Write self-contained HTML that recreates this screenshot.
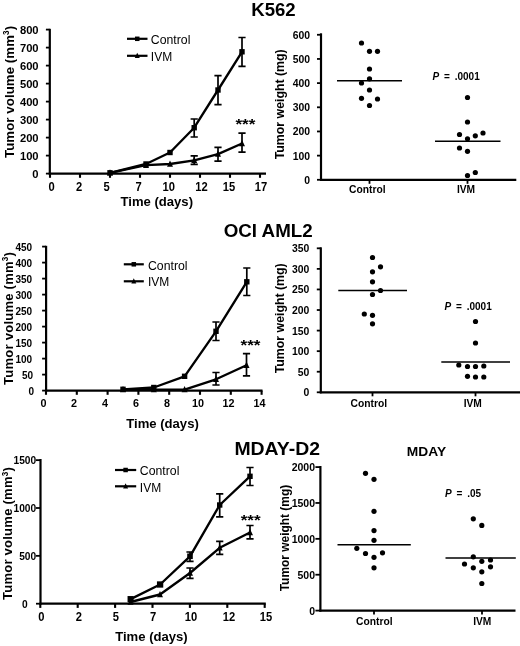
<!DOCTYPE html>
<html lang="en"><head><meta charset="utf-8"><title>Tumor volume and weight: K562, OCI AML2, MDAY-D2</title>
<style>html,body{margin:0;padding:0;background:#fff}svg{display:block}</style></head>
<body>
<svg width="520" height="646" viewBox="0 0 520 646" font-family='"Liberation Sans", Arial, Helvetica, sans-serif' fill="#000">
<rect width="520" height="646" fill="#fff"/>
<text x="251.2" y="15.5" font-size="17.5" font-weight="bold" textLength="44.5" lengthAdjust="spacingAndGlyphs">K562</text>
<text x="223.7" y="236.8" font-size="17.5" font-weight="bold" textLength="89" lengthAdjust="spacingAndGlyphs">OCI AML2</text>
<text x="234.4" y="455" font-size="17.5" font-weight="bold" textLength="85.6" lengthAdjust="spacingAndGlyphs">MDAY-D2</text>
<text x="406.8" y="455.5" font-size="12.4" font-weight="bold" textLength="39.3" lengthAdjust="spacingAndGlyphs">MDAY</text>
<line x1="49.8" y1="28.8" x2="49.8" y2="174.6" stroke="#000" stroke-width="2.2" stroke-linecap="butt"/>
<line x1="48.8" y1="173.6" x2="266" y2="173.6" stroke="#000" stroke-width="2.2" stroke-linecap="butt"/>
<line x1="45.9" y1="173.6" x2="49.8" y2="173.6" stroke="#000" stroke-width="1.8" stroke-linecap="butt"/>
<text x="38.6" y="177.9" font-size="11.2" font-weight="bold" text-anchor="end">0</text>
<line x1="45.9" y1="155.6" x2="49.8" y2="155.6" stroke="#000" stroke-width="1.8" stroke-linecap="butt"/>
<text x="38.6" y="159.9" font-size="11.2" font-weight="bold" text-anchor="end">100</text>
<line x1="45.9" y1="137.6" x2="49.8" y2="137.6" stroke="#000" stroke-width="1.8" stroke-linecap="butt"/>
<text x="38.6" y="141.9" font-size="11.2" font-weight="bold" text-anchor="end">200</text>
<line x1="45.9" y1="119.6" x2="49.8" y2="119.6" stroke="#000" stroke-width="1.8" stroke-linecap="butt"/>
<text x="38.6" y="123.9" font-size="11.2" font-weight="bold" text-anchor="end">300</text>
<line x1="45.9" y1="101.6" x2="49.8" y2="101.6" stroke="#000" stroke-width="1.8" stroke-linecap="butt"/>
<text x="38.6" y="105.9" font-size="11.2" font-weight="bold" text-anchor="end">400</text>
<line x1="45.9" y1="83.6" x2="49.8" y2="83.6" stroke="#000" stroke-width="1.8" stroke-linecap="butt"/>
<text x="38.6" y="87.9" font-size="11.2" font-weight="bold" text-anchor="end">500</text>
<line x1="45.9" y1="65.6" x2="49.8" y2="65.6" stroke="#000" stroke-width="1.8" stroke-linecap="butt"/>
<text x="38.6" y="69.9" font-size="11.2" font-weight="bold" text-anchor="end">600</text>
<line x1="45.9" y1="47.6" x2="49.8" y2="47.6" stroke="#000" stroke-width="1.8" stroke-linecap="butt"/>
<text x="38.6" y="51.9" font-size="11.2" font-weight="bold" text-anchor="end">700</text>
<line x1="45.9" y1="29.6" x2="49.8" y2="29.6" stroke="#000" stroke-width="1.8" stroke-linecap="butt"/>
<text x="38.6" y="33.9" font-size="11.2" font-weight="bold" text-anchor="end">800</text>
<line x1="50" y1="173.6" x2="50" y2="177.79999999999998" stroke="#000" stroke-width="2.1" stroke-linecap="butt"/>
<text x="0" y="0" font-size="11.2" font-weight="bold" text-anchor="middle" transform="translate(51.5,190.7) scale(1,1.1)">0</text>
<line x1="80" y1="173.6" x2="80" y2="177.79999999999998" stroke="#000" stroke-width="2.1" stroke-linecap="butt"/>
<text x="0" y="0" font-size="11.2" font-weight="bold" text-anchor="middle" transform="translate(79,190.7) scale(1,1.1)">2</text>
<line x1="110" y1="173.6" x2="110" y2="177.79999999999998" stroke="#000" stroke-width="2.1" stroke-linecap="butt"/>
<text x="0" y="0" font-size="11.2" font-weight="bold" text-anchor="middle" transform="translate(106.5,190.7) scale(1,1.1)">5</text>
<line x1="140" y1="173.6" x2="140" y2="177.79999999999998" stroke="#000" stroke-width="2.1" stroke-linecap="butt"/>
<text x="0" y="0" font-size="11.2" font-weight="bold" text-anchor="middle" transform="translate(138.5,190.7) scale(1,1.1)">7</text>
<line x1="170" y1="173.6" x2="170" y2="177.79999999999998" stroke="#000" stroke-width="2.1" stroke-linecap="butt"/>
<text x="0" y="0" font-size="11.2" font-weight="bold" text-anchor="middle" transform="translate(168.8,190.7) scale(1,1.1)">10</text>
<line x1="200" y1="173.6" x2="200" y2="177.79999999999998" stroke="#000" stroke-width="2.1" stroke-linecap="butt"/>
<text x="0" y="0" font-size="11.2" font-weight="bold" text-anchor="middle" transform="translate(201.5,190.7) scale(1,1.1)">12</text>
<line x1="230" y1="173.6" x2="230" y2="177.79999999999998" stroke="#000" stroke-width="2.1" stroke-linecap="butt"/>
<text x="0" y="0" font-size="11.2" font-weight="bold" text-anchor="middle" transform="translate(229,190.7) scale(1,1.1)">15</text>
<line x1="260" y1="173.6" x2="260" y2="177.79999999999998" stroke="#000" stroke-width="2.1" stroke-linecap="butt"/>
<text x="0" y="0" font-size="11.2" font-weight="bold" text-anchor="middle" transform="translate(261,190.7) scale(1,1.1)">17</text>
<path d="M190.6,119H197.79999999999998M190.6,137H197.79999999999998M194.2,119V137" stroke="#000" stroke-width="1.7" fill="none"/>
<path d="M214.4,75.7H221.6M214.4,104.6H221.6M218,75.7V104.6" stroke="#000" stroke-width="1.7" fill="none"/>
<path d="M238.4,37.5H245.6M238.4,66.3H245.6M242,37.5V66.3" stroke="#000" stroke-width="1.7" fill="none"/>
<path d="M190.6,155.8H197.79999999999998M190.6,164.3H197.79999999999998M194.2,155.8V164.3" stroke="#000" stroke-width="1.7" fill="none"/>
<path d="M214.4,147.3H221.6M214.4,161.2H221.6M218,147.3V161.2" stroke="#000" stroke-width="1.7" fill="none"/>
<path d="M238.4,133.2H245.6M238.4,152.2H245.6M242,133.2V152.2" stroke="#000" stroke-width="1.7" fill="none"/>
<polyline points="110,172.8 146,165.2 170,164 194.2,160.3 218,154.1 242,143.5" fill="none" stroke="#000" stroke-width="2.35" stroke-linejoin="round"/>
<polyline points="110,172.8 146,164 170,152.5 194.2,127.7 218,90 242,51.8" fill="none" stroke="#000" stroke-width="2.35" stroke-linejoin="round"/>
<rect x="107.3" y="170.10000000000002" width="5.4" height="5.4" fill="#000"/>
<rect x="143.3" y="161.3" width="5.4" height="5.4" fill="#000"/>
<rect x="167.3" y="149.8" width="5.4" height="5.4" fill="#000"/>
<rect x="191.5" y="125.0" width="5.4" height="5.4" fill="#000"/>
<rect x="215.3" y="87.3" width="5.4" height="5.4" fill="#000"/>
<rect x="239.3" y="49.099999999999994" width="5.4" height="5.4" fill="#000"/>
<polygon points="110,169.20000000000002 113.0,175.5 107.0,175.5" fill="#000"/>
<polygon points="146,161.6 149.0,167.89999999999998 143.0,167.89999999999998" fill="#000"/>
<polygon points="170,160.4 173.0,166.7 167.0,166.7" fill="#000"/>
<polygon points="194.2,156.70000000000002 197.2,163.0 191.2,163.0" fill="#000"/>
<polygon points="218,150.5 221.0,156.79999999999998 215.0,156.79999999999998" fill="#000"/>
<polygon points="242,139.9 245.0,146.2 239.0,146.2" fill="#000"/>
<line x1="127" y1="38.8" x2="147.5" y2="38.8" stroke="#000" stroke-width="2.2" stroke-linecap="butt"/>
<rect x="135.0" y="36.55" width="4.5" height="4.5" fill="#000"/>
<line x1="127" y1="55.8" x2="147.5" y2="55.8" stroke="#000" stroke-width="2.2" stroke-linecap="butt"/>
<polygon points="137.25,52.8 139.75,58.05 134.75,58.05" fill="#000"/>
<text x="150.8" y="44.3" font-size="12" textLength="39.6" lengthAdjust="spacingAndGlyphs">Control</text>
<text x="150.8" y="60.5" font-size="12">IVM</text>
<text x="235.4" y="128.5" font-size="15.5" font-weight="bold" textLength="20" lengthAdjust="spacingAndGlyphs">***</text>
<text transform="translate(13.8,158) rotate(-90)" font-size="13.2" font-weight="bold" letter-spacing="0.1">Tumor volume (mm<tspan font-size="8.2" dy="-4.8">3</tspan><tspan dy="4.8">)</tspan></text>
<text x="120.5" y="205.8" font-size="13" font-weight="bold" textLength="72.5" lengthAdjust="spacingAndGlyphs">Time (days)</text>
<line x1="321" y1="33.3" x2="321" y2="180.8" stroke="#000" stroke-width="2.2" stroke-linecap="butt"/>
<line x1="320" y1="179.8" x2="516.3" y2="179.8" stroke="#000" stroke-width="2.2" stroke-linecap="butt"/>
<line x1="317" y1="179.8" x2="321" y2="179.8" stroke="#000" stroke-width="1.8" stroke-linecap="butt"/>
<text x="310.1" y="183.8" font-size="10.4" font-weight="bold" text-anchor="end">0</text>
<line x1="317" y1="155.63" x2="321" y2="155.63" stroke="#000" stroke-width="1.8" stroke-linecap="butt"/>
<text x="310.1" y="159.63" font-size="10.4" font-weight="bold" text-anchor="end">100</text>
<line x1="317" y1="131.46" x2="321" y2="131.46" stroke="#000" stroke-width="1.8" stroke-linecap="butt"/>
<text x="310.1" y="135.46" font-size="10.4" font-weight="bold" text-anchor="end">200</text>
<line x1="317" y1="107.29" x2="321" y2="107.29" stroke="#000" stroke-width="1.8" stroke-linecap="butt"/>
<text x="310.1" y="111.29" font-size="10.4" font-weight="bold" text-anchor="end">300</text>
<line x1="317" y1="83.12" x2="321" y2="83.12" stroke="#000" stroke-width="1.8" stroke-linecap="butt"/>
<text x="310.1" y="87.12" font-size="10.4" font-weight="bold" text-anchor="end">400</text>
<line x1="317" y1="58.95" x2="321" y2="58.95" stroke="#000" stroke-width="1.8" stroke-linecap="butt"/>
<text x="310.1" y="62.95" font-size="10.4" font-weight="bold" text-anchor="end">500</text>
<line x1="317" y1="34.78" x2="321" y2="34.78" stroke="#000" stroke-width="1.8" stroke-linecap="butt"/>
<text x="310.1" y="38.78" font-size="10.4" font-weight="bold" text-anchor="end">600</text>
<line x1="369.5" y1="179.8" x2="369.5" y2="183.8" stroke="#000" stroke-width="1.8" stroke-linecap="butt"/>
<text x="367.3" y="193" font-size="10" font-weight="bold" text-anchor="middle" textLength="36.6" lengthAdjust="spacingAndGlyphs">Control</text>
<line x1="467.5" y1="179.8" x2="467.5" y2="183.8" stroke="#000" stroke-width="1.8" stroke-linecap="butt"/>
<text x="466" y="193" font-size="10" font-weight="bold" text-anchor="middle" textLength="18.2" lengthAdjust="spacingAndGlyphs">IVM</text>
<circle cx="361.5" cy="43" r="2.6" fill="#000"/>
<circle cx="369.5" cy="51.3" r="2.6" fill="#000"/>
<circle cx="377.5" cy="51.3" r="2.6" fill="#000"/>
<circle cx="369.5" cy="69" r="2.6" fill="#000"/>
<circle cx="369.5" cy="78.8" r="2.6" fill="#000"/>
<circle cx="361.5" cy="83" r="2.6" fill="#000"/>
<circle cx="369.5" cy="90" r="2.6" fill="#000"/>
<circle cx="361.5" cy="98.3" r="2.6" fill="#000"/>
<circle cx="377.5" cy="99" r="2.6" fill="#000"/>
<circle cx="369.5" cy="105.5" r="2.6" fill="#000"/>
<circle cx="467.5" cy="97.5" r="2.6" fill="#000"/>
<circle cx="467.5" cy="122" r="2.6" fill="#000"/>
<circle cx="483" cy="133" r="2.6" fill="#000"/>
<circle cx="459.5" cy="134.5" r="2.6" fill="#000"/>
<circle cx="475.3" cy="135.8" r="2.6" fill="#000"/>
<circle cx="467.5" cy="138.8" r="2.6" fill="#000"/>
<circle cx="459.5" cy="148" r="2.6" fill="#000"/>
<circle cx="467.5" cy="151.3" r="2.6" fill="#000"/>
<circle cx="475.3" cy="172.5" r="2.6" fill="#000"/>
<circle cx="467.5" cy="175.5" r="2.6" fill="#000"/>
<line x1="337" y1="80.8" x2="402" y2="80.8" stroke="#000" stroke-width="1.5" stroke-linecap="butt"/>
<line x1="435" y1="141.3" x2="500.5" y2="141.3" stroke="#000" stroke-width="1.5" stroke-linecap="butt"/>
<text x="432.5" y="80" font-size="10" font-weight="bold"><tspan font-style="italic">P</tspan><tspan x="444.1">=</tspan><tspan x="454.7">.0001</tspan></text>
<text transform="translate(283.5,159.3) rotate(-90)" font-size="12" font-weight="bold" textLength="110" lengthAdjust="spacingAndGlyphs">Tumor weight (mg)</text>
<line x1="46.1" y1="245.8" x2="46.1" y2="391.6" stroke="#000" stroke-width="2.2" stroke-linecap="butt"/>
<line x1="45.1" y1="390.6" x2="262.5" y2="390.6" stroke="#000" stroke-width="2.2" stroke-linecap="butt"/>
<line x1="42.1" y1="390.6" x2="46.1" y2="390.6" stroke="#000" stroke-width="1.8" stroke-linecap="butt"/>
<text x="34" y="394.9" font-size="10" font-weight="bold" text-anchor="end">0</text>
<line x1="42.1" y1="374.6" x2="46.1" y2="374.6" stroke="#000" stroke-width="1.8" stroke-linecap="butt"/>
<text x="33.1" y="378.9" font-size="10" font-weight="bold" text-anchor="end">50</text>
<line x1="42.1" y1="358.6" x2="46.1" y2="358.6" stroke="#000" stroke-width="1.8" stroke-linecap="butt"/>
<text x="32.2" y="362.9" font-size="10" font-weight="bold" text-anchor="end">100</text>
<line x1="42.1" y1="342.6" x2="46.1" y2="342.6" stroke="#000" stroke-width="1.8" stroke-linecap="butt"/>
<text x="32.2" y="346.9" font-size="10" font-weight="bold" text-anchor="end">150</text>
<line x1="42.1" y1="326.6" x2="46.1" y2="326.6" stroke="#000" stroke-width="1.8" stroke-linecap="butt"/>
<text x="32.2" y="330.9" font-size="10" font-weight="bold" text-anchor="end">200</text>
<line x1="42.1" y1="310.6" x2="46.1" y2="310.6" stroke="#000" stroke-width="1.8" stroke-linecap="butt"/>
<text x="32.2" y="314.9" font-size="10" font-weight="bold" text-anchor="end">250</text>
<line x1="42.1" y1="294.6" x2="46.1" y2="294.6" stroke="#000" stroke-width="1.8" stroke-linecap="butt"/>
<text x="32.2" y="298.9" font-size="10" font-weight="bold" text-anchor="end">300</text>
<line x1="42.1" y1="278.6" x2="46.1" y2="278.6" stroke="#000" stroke-width="1.8" stroke-linecap="butt"/>
<text x="32.2" y="282.9" font-size="10" font-weight="bold" text-anchor="end">350</text>
<line x1="42.1" y1="262.6" x2="46.1" y2="262.6" stroke="#000" stroke-width="1.8" stroke-linecap="butt"/>
<text x="32.2" y="266.9" font-size="10" font-weight="bold" text-anchor="end">400</text>
<line x1="42.1" y1="246.6" x2="46.1" y2="246.6" stroke="#000" stroke-width="1.8" stroke-linecap="butt"/>
<text x="32.2" y="250.9" font-size="10" font-weight="bold" text-anchor="end">450</text>
<line x1="46.0" y1="390.6" x2="46.0" y2="394.8" stroke="#000" stroke-width="2.1" stroke-linecap="butt"/>
<text x="43.5" y="407.4" font-size="10.8" font-weight="bold" text-anchor="middle">0</text>
<line x1="76.8" y1="390.6" x2="76.8" y2="394.8" stroke="#000" stroke-width="2.1" stroke-linecap="butt"/>
<text x="74" y="407.4" font-size="10.8" font-weight="bold" text-anchor="middle">2</text>
<line x1="107.6" y1="390.6" x2="107.6" y2="394.8" stroke="#000" stroke-width="2.1" stroke-linecap="butt"/>
<text x="105" y="407.4" font-size="10.8" font-weight="bold" text-anchor="middle">4</text>
<line x1="138.4" y1="390.6" x2="138.4" y2="394.8" stroke="#000" stroke-width="2.1" stroke-linecap="butt"/>
<text x="136" y="407.4" font-size="10.8" font-weight="bold" text-anchor="middle">6</text>
<line x1="169.2" y1="390.6" x2="169.2" y2="394.8" stroke="#000" stroke-width="2.1" stroke-linecap="butt"/>
<text x="167" y="407.4" font-size="10.8" font-weight="bold" text-anchor="middle">8</text>
<line x1="200.0" y1="390.6" x2="200.0" y2="394.8" stroke="#000" stroke-width="2.1" stroke-linecap="butt"/>
<text x="197.9" y="407.4" font-size="10.8" font-weight="bold" text-anchor="middle">10</text>
<line x1="230.8" y1="390.6" x2="230.8" y2="394.8" stroke="#000" stroke-width="2.1" stroke-linecap="butt"/>
<text x="228.4" y="407.4" font-size="10.8" font-weight="bold" text-anchor="middle">12</text>
<line x1="261.6" y1="390.6" x2="261.6" y2="394.8" stroke="#000" stroke-width="2.1" stroke-linecap="butt"/>
<text x="259.5" y="407.4" font-size="10.8" font-weight="bold" text-anchor="middle">14</text>
<path d="M212.4,322H219.6M212.4,340.5H219.6M216,322V340.5" stroke="#000" stroke-width="1.7" fill="none"/>
<path d="M243.20000000000002,268H250.4M243.20000000000002,295.5H250.4M246.8,268V295.5" stroke="#000" stroke-width="1.7" fill="none"/>
<path d="M212.4,372.5H219.6M212.4,385H219.6M216,372.5V385" stroke="#000" stroke-width="1.7" fill="none"/>
<path d="M242.9,353.7H250.1M242.9,375.8H250.1M246.5,353.7V375.8" stroke="#000" stroke-width="1.7" fill="none"/>
<polyline points="123,389.6 153.8,389.6 184.6,389.6 216,379.3 246.5,365.2" fill="none" stroke="#000" stroke-width="2.35" stroke-linejoin="round"/>
<polyline points="123,389.3 153.8,387.5 184.6,376.3 216,331.3 246.8,281.8" fill="none" stroke="#000" stroke-width="2.35" stroke-linejoin="round"/>
<rect x="120.3" y="386.6" width="5.4" height="5.4" fill="#000"/>
<rect x="151.10000000000002" y="384.8" width="5.4" height="5.4" fill="#000"/>
<rect x="181.9" y="373.6" width="5.4" height="5.4" fill="#000"/>
<rect x="213.3" y="328.6" width="5.4" height="5.4" fill="#000"/>
<rect x="244.10000000000002" y="279.1" width="5.4" height="5.4" fill="#000"/>
<polygon points="123,386.0 126.0,392.3 120.0,392.3" fill="#000"/>
<polygon points="153.8,386.0 156.8,392.3 150.8,392.3" fill="#000"/>
<polygon points="184.6,386.0 187.6,392.3 181.6,392.3" fill="#000"/>
<polygon points="216,375.7 219.0,382.0 213.0,382.0" fill="#000"/>
<polygon points="246.5,361.59999999999997 249.5,367.9 243.5,367.9" fill="#000"/>
<line x1="123.8" y1="264.3" x2="143.8" y2="264.3" stroke="#000" stroke-width="2.2" stroke-linecap="butt"/>
<rect x="131.55" y="262.05" width="4.5" height="4.5" fill="#000"/>
<line x1="123.8" y1="281.3" x2="143.8" y2="281.3" stroke="#000" stroke-width="2.2" stroke-linecap="butt"/>
<polygon points="133.8,278.3 136.3,283.55 131.3,283.55" fill="#000"/>
<text x="148" y="269.5" font-size="12" textLength="39.6" lengthAdjust="spacingAndGlyphs">Control</text>
<text x="148" y="285.8" font-size="12">IVM</text>
<text x="240.5" y="350.4" font-size="15.5" font-weight="bold" textLength="20" lengthAdjust="spacingAndGlyphs">***</text>
<text transform="translate(12.7,384.9) rotate(-90)" font-size="13.1" font-weight="bold" letter-spacing="0.2">Tumor volume (mm<tspan font-size="8.2" dy="-4.8">3</tspan><tspan dy="4.8">)</tspan></text>
<text x="126.3" y="427.5" font-size="13" font-weight="bold" textLength="72.5" lengthAdjust="spacingAndGlyphs">Time (days)</text>
<line x1="320.8" y1="247.3" x2="320.8" y2="393.3" stroke="#000" stroke-width="2.2" stroke-linecap="butt"/>
<line x1="319.8" y1="392.3" x2="521" y2="392.3" stroke="#000" stroke-width="2.2" stroke-linecap="butt"/>
<line x1="316.8" y1="392.3" x2="320.8" y2="392.3" stroke="#000" stroke-width="1.8" stroke-linecap="butt"/>
<text x="309.3" y="396.3" font-size="10.4" font-weight="bold" text-anchor="end">0</text>
<line x1="316.8" y1="371.73" x2="320.8" y2="371.73" stroke="#000" stroke-width="1.8" stroke-linecap="butt"/>
<text x="309.3" y="375.73" font-size="10.4" font-weight="bold" text-anchor="end">50</text>
<line x1="316.8" y1="351.16" x2="320.8" y2="351.16" stroke="#000" stroke-width="1.8" stroke-linecap="butt"/>
<text x="309.3" y="355.16" font-size="10.4" font-weight="bold" text-anchor="end">100</text>
<line x1="316.8" y1="330.59" x2="320.8" y2="330.59" stroke="#000" stroke-width="1.8" stroke-linecap="butt"/>
<text x="309.3" y="334.59" font-size="10.4" font-weight="bold" text-anchor="end">150</text>
<line x1="316.8" y1="310.02" x2="320.8" y2="310.02" stroke="#000" stroke-width="1.8" stroke-linecap="butt"/>
<text x="309.3" y="314.02" font-size="10.4" font-weight="bold" text-anchor="end">200</text>
<line x1="316.8" y1="289.45" x2="320.8" y2="289.45" stroke="#000" stroke-width="1.8" stroke-linecap="butt"/>
<text x="309.3" y="293.45" font-size="10.4" font-weight="bold" text-anchor="end">250</text>
<line x1="316.8" y1="268.88" x2="320.8" y2="268.88" stroke="#000" stroke-width="1.8" stroke-linecap="butt"/>
<text x="309.3" y="272.88" font-size="10.4" font-weight="bold" text-anchor="end">300</text>
<line x1="316.8" y1="248.31" x2="320.8" y2="248.31" stroke="#000" stroke-width="1.8" stroke-linecap="butt"/>
<text x="309.3" y="252.31" font-size="10.4" font-weight="bold" text-anchor="end">350</text>
<line x1="372.5" y1="392.3" x2="372.5" y2="396.3" stroke="#000" stroke-width="1.8" stroke-linecap="butt"/>
<text x="368.8" y="406.8" font-size="10" font-weight="bold" text-anchor="middle" textLength="36.6" lengthAdjust="spacingAndGlyphs">Control</text>
<line x1="475.5" y1="392.3" x2="475.5" y2="396.3" stroke="#000" stroke-width="1.8" stroke-linecap="butt"/>
<text x="472.8" y="406.8" font-size="10" font-weight="bold" text-anchor="middle" textLength="18.2" lengthAdjust="spacingAndGlyphs">IVM</text>
<circle cx="372.5" cy="257.5" r="2.6" fill="#000"/>
<circle cx="380.5" cy="266.8" r="2.6" fill="#000"/>
<circle cx="372.5" cy="271.8" r="2.6" fill="#000"/>
<circle cx="372.5" cy="281.8" r="2.6" fill="#000"/>
<circle cx="380.5" cy="290.5" r="2.6" fill="#000"/>
<circle cx="372.5" cy="294.5" r="2.6" fill="#000"/>
<circle cx="364.3" cy="314" r="2.6" fill="#000"/>
<circle cx="372.5" cy="315.3" r="2.6" fill="#000"/>
<circle cx="372.5" cy="323.8" r="2.6" fill="#000"/>
<circle cx="475.5" cy="321.5" r="2.6" fill="#000"/>
<circle cx="475.5" cy="343" r="2.6" fill="#000"/>
<circle cx="458.8" cy="365" r="2.6" fill="#000"/>
<circle cx="467.5" cy="366.5" r="2.6" fill="#000"/>
<circle cx="475.5" cy="366.5" r="2.6" fill="#000"/>
<circle cx="483.8" cy="366" r="2.6" fill="#000"/>
<circle cx="467.5" cy="376.3" r="2.6" fill="#000"/>
<circle cx="475.5" cy="377" r="2.6" fill="#000"/>
<circle cx="483.8" cy="377" r="2.6" fill="#000"/>
<line x1="338.3" y1="290.5" x2="407" y2="290.5" stroke="#000" stroke-width="1.5" stroke-linecap="butt"/>
<line x1="441.3" y1="362" x2="510" y2="362" stroke="#000" stroke-width="1.5" stroke-linecap="butt"/>
<text x="444.5" y="309.5" font-size="10" font-weight="bold"><tspan font-style="italic">P</tspan><tspan x="456.1">=</tspan><tspan x="466.7">.0001</tspan></text>
<text transform="translate(284,373.3) rotate(-90)" font-size="12" font-weight="bold" textLength="110" lengthAdjust="spacingAndGlyphs">Tumor weight (mg)</text>
<line x1="40.5" y1="459" x2="40.5" y2="604.7" stroke="#000" stroke-width="2.2" stroke-linecap="butt"/>
<line x1="39.5" y1="603.7" x2="265.8" y2="603.7" stroke="#000" stroke-width="2.2" stroke-linecap="butt"/>
<line x1="36.0" y1="603.7" x2="40.5" y2="603.7" stroke="#000" stroke-width="1.8" stroke-linecap="butt"/>
<text x="27.6" y="608.0" font-size="10.2" font-weight="bold" text-anchor="end">0</text>
<line x1="36.0" y1="555.85" x2="40.5" y2="555.85" stroke="#000" stroke-width="1.8" stroke-linecap="butt"/>
<text x="36.2" y="560.15" font-size="10.2" font-weight="bold" text-anchor="end">500</text>
<line x1="36.0" y1="508.0" x2="40.5" y2="508.0" stroke="#000" stroke-width="1.8" stroke-linecap="butt"/>
<text x="36.2" y="512.3" font-size="10.2" font-weight="bold" text-anchor="end">1000</text>
<line x1="36.0" y1="460.15" x2="40.5" y2="460.15" stroke="#000" stroke-width="1.8" stroke-linecap="butt"/>
<text x="36.2" y="464.45" font-size="10.2" font-weight="bold" text-anchor="end">1500</text>
<line x1="40.3" y1="603.7" x2="40.3" y2="607.9000000000001" stroke="#000" stroke-width="2.1" stroke-linecap="butt"/>
<text x="0" y="0" font-size="11.2" font-weight="bold" text-anchor="middle" transform="translate(41.3,621) scale(1,1.1)">0</text>
<line x1="77.69999999999999" y1="603.7" x2="77.69999999999999" y2="607.9000000000001" stroke="#000" stroke-width="2.1" stroke-linecap="butt"/>
<text x="0" y="0" font-size="11.2" font-weight="bold" text-anchor="middle" transform="translate(78.8,621) scale(1,1.1)">2</text>
<line x1="115.1" y1="603.7" x2="115.1" y2="607.9000000000001" stroke="#000" stroke-width="2.1" stroke-linecap="butt"/>
<text x="0" y="0" font-size="11.2" font-weight="bold" text-anchor="middle" transform="translate(115.8,621) scale(1,1.1)">5</text>
<line x1="152.5" y1="603.7" x2="152.5" y2="607.9000000000001" stroke="#000" stroke-width="2.1" stroke-linecap="butt"/>
<text x="0" y="0" font-size="11.2" font-weight="bold" text-anchor="middle" transform="translate(153.2,621) scale(1,1.1)">7</text>
<line x1="189.89999999999998" y1="603.7" x2="189.89999999999998" y2="607.9000000000001" stroke="#000" stroke-width="2.1" stroke-linecap="butt"/>
<text x="0" y="0" font-size="11.2" font-weight="bold" text-anchor="middle" transform="translate(191,621) scale(1,1.1)">10</text>
<line x1="227.3" y1="603.7" x2="227.3" y2="607.9000000000001" stroke="#000" stroke-width="2.1" stroke-linecap="butt"/>
<text x="0" y="0" font-size="11.2" font-weight="bold" text-anchor="middle" transform="translate(229,621) scale(1,1.1)">12</text>
<line x1="264.7" y1="603.7" x2="264.7" y2="607.9000000000001" stroke="#000" stroke-width="2.1" stroke-linecap="butt"/>
<text x="0" y="0" font-size="11.2" font-weight="bold" text-anchor="middle" transform="translate(266.1,621) scale(1,1.1)">15</text>
<path d="M186.4,552H193.6M186.4,561.3H193.6M190,552V561.3" stroke="#000" stroke-width="1.7" fill="none"/>
<path d="M216.1,493.8H223.29999999999998M216.1,516.8H223.29999999999998M219.7,493.8V516.8" stroke="#000" stroke-width="1.7" fill="none"/>
<path d="M246.4,467.5H253.6M246.4,485.5H253.6M250,467.5V485.5" stroke="#000" stroke-width="1.7" fill="none"/>
<path d="M186.4,568H193.6M186.4,578.3H193.6M190,568V578.3" stroke="#000" stroke-width="1.7" fill="none"/>
<path d="M216.1,541.3H223.29999999999998M216.1,554.3H223.29999999999998M219.7,541.3V554.3" stroke="#000" stroke-width="1.7" fill="none"/>
<path d="M246.4,525.5H253.6M246.4,538.8H253.6M250,525.5V538.8" stroke="#000" stroke-width="1.7" fill="none"/>
<polyline points="130.5,602 160,594.5 190,573 219.7,547.8 250,532.5" fill="none" stroke="#000" stroke-width="2.35" stroke-linejoin="round"/>
<polyline points="130.6,599.1 160.1,584.5 190,556.3 219.7,505 250,476.3" fill="none" stroke="#000" stroke-width="2.35" stroke-linejoin="round"/>
<rect x="127.55" y="596.0500000000001" width="6.1" height="6.1" fill="#000"/>
<rect x="156.95" y="581.35" width="6.3" height="6.3" fill="#000"/>
<rect x="187.2" y="553.5" width="5.6" height="5.6" fill="#000"/>
<rect x="217.0" y="502.3" width="5.4" height="5.4" fill="#000"/>
<rect x="247.3" y="473.6" width="5.4" height="5.4" fill="#000"/>
<polygon points="130.5,598.4 133.5,604.7 127.5,604.7" fill="#000"/>
<polygon points="160,590.9 163.0,597.2 157.0,597.2" fill="#000"/>
<polygon points="190,569.4 193.0,575.7 187.0,575.7" fill="#000"/>
<polygon points="219.7,544.1999999999999 222.7,550.5 216.7,550.5" fill="#000"/>
<polygon points="250,528.9 253.0,535.2 247.0,535.2" fill="#000"/>
<line x1="115" y1="470" x2="136.2" y2="470" stroke="#000" stroke-width="2.2" stroke-linecap="butt"/>
<rect x="123.35" y="467.75" width="4.5" height="4.5" fill="#000"/>
<line x1="115" y1="486.3" x2="136.2" y2="486.3" stroke="#000" stroke-width="2.2" stroke-linecap="butt"/>
<polygon points="125.6,483.3 128.1,488.55 123.1,488.55" fill="#000"/>
<text x="139.8" y="475.2" font-size="12" textLength="39.6" lengthAdjust="spacingAndGlyphs">Control</text>
<text x="139.8" y="491.6" font-size="12">IVM</text>
<text x="240.7" y="525.2" font-size="15.5" font-weight="bold" textLength="20" lengthAdjust="spacingAndGlyphs">***</text>
<text transform="translate(12.3,600) rotate(-90)" font-size="13.1" font-weight="bold" letter-spacing="0.2">Tumor volume (mm<tspan font-size="8.2" dy="-4.8">3</tspan><tspan dy="4.8">)</tspan></text>
<text x="115.2" y="641" font-size="13" font-weight="bold" textLength="72.5" lengthAdjust="spacingAndGlyphs">Time (days)</text>
<line x1="320.4" y1="466" x2="320.4" y2="611.6" stroke="#000" stroke-width="2.2" stroke-linecap="butt"/>
<line x1="319.4" y1="610.6" x2="515.5" y2="610.6" stroke="#000" stroke-width="2.2" stroke-linecap="butt"/>
<line x1="315.4" y1="610.6" x2="320.4" y2="610.6" stroke="#000" stroke-width="1.8" stroke-linecap="butt"/>
<text x="315" y="614.6" font-size="10.5" font-weight="bold" text-anchor="end">0</text>
<line x1="315.4" y1="574.72" x2="320.4" y2="574.72" stroke="#000" stroke-width="1.8" stroke-linecap="butt"/>
<text x="315" y="578.72" font-size="10.5" font-weight="bold" text-anchor="end">500</text>
<line x1="315.4" y1="538.84" x2="320.4" y2="538.84" stroke="#000" stroke-width="1.8" stroke-linecap="butt"/>
<text x="315" y="542.84" font-size="10.5" font-weight="bold" text-anchor="end">1000</text>
<line x1="315.4" y1="502.96" x2="320.4" y2="502.96" stroke="#000" stroke-width="1.8" stroke-linecap="butt"/>
<text x="315" y="506.96" font-size="10.5" font-weight="bold" text-anchor="end">1500</text>
<line x1="315.4" y1="467.08" x2="320.4" y2="467.08" stroke="#000" stroke-width="1.8" stroke-linecap="butt"/>
<text x="315" y="471.08" font-size="10.5" font-weight="bold" text-anchor="end">2000</text>
<line x1="374" y1="610.6" x2="374" y2="614.6" stroke="#000" stroke-width="1.8" stroke-linecap="butt"/>
<text x="374.3" y="624.8" font-size="10" font-weight="bold" text-anchor="middle" textLength="36.6" lengthAdjust="spacingAndGlyphs">Control</text>
<line x1="482" y1="610.6" x2="482" y2="614.6" stroke="#000" stroke-width="1.8" stroke-linecap="butt"/>
<text x="482.3" y="624.8" font-size="10" font-weight="bold" text-anchor="middle" textLength="18.2" lengthAdjust="spacingAndGlyphs">IVM</text>
<circle cx="365.5" cy="473.3" r="2.6" fill="#000"/>
<circle cx="374" cy="479.3" r="2.6" fill="#000"/>
<circle cx="374" cy="511.3" r="2.6" fill="#000"/>
<circle cx="374" cy="530.6" r="2.6" fill="#000"/>
<circle cx="374" cy="540.3" r="2.6" fill="#000"/>
<circle cx="356.8" cy="548.3" r="2.6" fill="#000"/>
<circle cx="365.5" cy="553.5" r="2.6" fill="#000"/>
<circle cx="382.5" cy="552.8" r="2.6" fill="#000"/>
<circle cx="374" cy="557.3" r="2.6" fill="#000"/>
<circle cx="374" cy="567.8" r="2.6" fill="#000"/>
<circle cx="473.3" cy="518.8" r="2.6" fill="#000"/>
<circle cx="481.8" cy="525.4" r="2.6" fill="#000"/>
<circle cx="473.3" cy="556.8" r="2.6" fill="#000"/>
<circle cx="490.5" cy="560" r="2.6" fill="#000"/>
<circle cx="481.8" cy="561.3" r="2.6" fill="#000"/>
<circle cx="464.5" cy="564" r="2.6" fill="#000"/>
<circle cx="490.5" cy="566.8" r="2.6" fill="#000"/>
<circle cx="473.3" cy="567.8" r="2.6" fill="#000"/>
<circle cx="481.8" cy="571.8" r="2.6" fill="#000"/>
<circle cx="481.8" cy="583.5" r="2.6" fill="#000"/>
<line x1="337.5" y1="544.8" x2="410.8" y2="544.8" stroke="#000" stroke-width="1.5" stroke-linecap="butt"/>
<line x1="445.5" y1="558" x2="515.8" y2="558" stroke="#000" stroke-width="1.5" stroke-linecap="butt"/>
<text x="445" y="496.8" font-size="10" font-weight="bold"><tspan font-style="italic">P</tspan><tspan x="456.6">=</tspan><tspan x="467.2">.05</tspan></text>
<text transform="translate(288.8,591.3) rotate(-90)" font-size="12" font-weight="bold" textLength="106.5" lengthAdjust="spacingAndGlyphs">Tumor weight (mg)</text>
</svg>
</body></html>
